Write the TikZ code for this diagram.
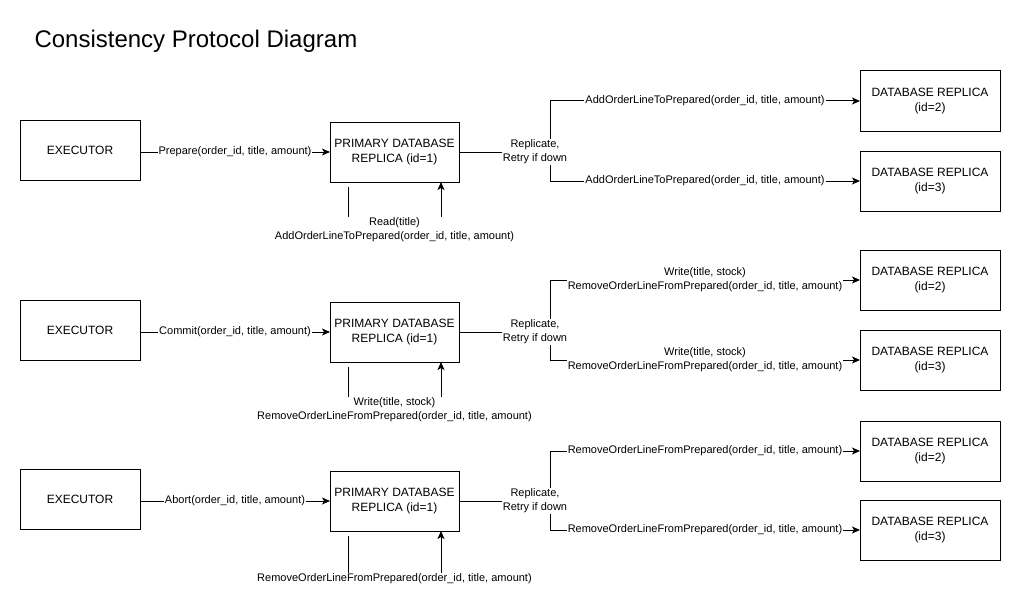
\documentclass[tikz,border=0pt]{standalone}
\usepackage{fontspec}
\setmainfont{Liberation Sans}
\usetikzlibrary{positioning, arrows.meta, calc}

\begin{document}
\begin{tikzpicture}[
  x=1pt, y=1pt,
  box/.style={rectangle, draw, line width=1pt, minimum width=120pt,
    minimum height=60pt, align=center, inner sep=2pt, outer sep=0pt,
    font=\fontsize{12}{15}\selectfont},
  primary/.style={box, minimum width=129pt},
  replica/.style={box, minimum width=140pt},
  arrow/.style={-{Stealth[length=8pt, width=7pt, inset=2pt]}, line width=1pt},
  elabel/.style={fill=white, align=center, inner sep=1pt,
    font=\fontsize{11}{14}\selectfont}
]
  \useasboundingbox (0,0) rectangle (1021,-610);

  % Title
  \node[anchor=west, font=\fontsize{24}{28}\selectfont] (title) at (31,-41) {Consistency Protocol Diagram};

  % Nodes: prepare
  \node[box] (exec1) at (80,-150) {EXECUTOR};
  \node[primary, right=190pt of exec1, yshift=-2pt] (prim1) {PRIMARY DATABASE\\REPLICA (id=1)};
  \node[replica, right=401pt of prim1, yshift=51pt] (repA1) {DATABASE REPLICA\\(id=2)};
  \node[replica, right=401pt of prim1, yshift=-29pt] (repB1) {DATABASE REPLICA\\(id=3)};
  \coordinate[right=91pt of prim1] (fork1);
  \coordinate (rd1) at ([xshift=-46.5pt, yshift=-5pt]prim1.south);

  % Nodes: commit
  \node[box] (exec2) at (80,-330) {EXECUTOR};
  \node[primary, right=190pt of exec2, yshift=-2pt] (prim2) {PRIMARY DATABASE\\REPLICA (id=1)};
  \node[replica, right=401pt of prim2, yshift=52pt] (repA2) {DATABASE REPLICA\\(id=2)};
  \node[replica, right=401pt of prim2, yshift=-28pt] (repB2) {DATABASE REPLICA\\(id=3)};
  \coordinate[right=91pt of prim2] (fork2);
  \coordinate (rd2) at ([xshift=-46.5pt, yshift=-5pt]prim2.south);

  % Nodes: abort
  \node[box] (exec3) at (80,-499.5) {EXECUTOR};
  \node[primary, right=190pt of exec3, yshift=-1.5pt] (prim3) {PRIMARY DATABASE\\REPLICA (id=1)};
  \node[replica, right=401pt of prim3, yshift=50pt] (repA3) {DATABASE REPLICA\\(id=2)};
  \node[replica, right=401pt of prim3, yshift=-29pt] (repB3) {DATABASE REPLICA\\(id=3)};
  \coordinate[right=91pt of prim3] (fork3);
  \coordinate (rd3) at ([xshift=-46.5pt, yshift=-5pt]prim3.south);

  % Arrows: prepare
  \draw[arrow] (exec1.east |- prim1) -- node[elabel] {Prepare(order\_id, title, amount)} (prim1);
  \draw[arrow] (prim1) -- (fork1) |- node[pos=0.75, elabel] {AddOrderLineToPrepared(order\_id, title, amount)} (repA1);
  \draw[arrow] (fork1) |- node[pos=0.75, elabel] {AddOrderLineToPrepared(order\_id, title, amount)} (repB1);
  \node[elabel] (rep1) at ([xshift=-15pt]fork1) {Replicate,\\Retry if down};
  \draw[arrow] (rd1) -- ++(0,-43) -| node[pos=0.25, elabel] {Read(title)\\AddOrderLineToPrepared(order\_id, title, amount)} ([xshift=46.5pt]prim1.south);

  % Arrows: commit
  \draw[arrow] (exec2.east |- prim2) -- node[elabel] {Commit(order\_id, title, amount)} (prim2);
  \draw[arrow] (prim2) -- (fork2) |- node[pos=0.75, elabel] {Write(title, stock)\\RemoveOrderLineFromPrepared(order\_id, title, amount)} (repA2);
  \draw[arrow] (fork2) |- node[pos=0.75, elabel] {Write(title, stock)\\RemoveOrderLineFromPrepared(order\_id, title, amount)} (repB2);
  \node[elabel] (rep2) at ([xshift=-15pt]fork2) {Replicate,\\Retry if down};
  \draw[arrow] (rd2) -- ++(0,-43) -| node[pos=0.25, elabel] {Write(title, stock)\\RemoveOrderLineFromPrepared(order\_id, title, amount)} ([xshift=46.5pt]prim2.south);

  % Arrows: abort
  \draw[arrow] (exec3.east |- prim3) -- node[elabel] {Abort(order\_id, title, amount)} (prim3);
  \draw[arrow] (prim3) -- (fork3) |- node[pos=0.75, elabel] {RemoveOrderLineFromPrepared(order\_id, title, amount)} (repA3);
  \draw[arrow] (fork3) |- node[pos=0.75, elabel] {RemoveOrderLineFromPrepared(order\_id, title, amount)} (repB3);
  \node[elabel] (rep3) at ([xshift=-15pt]fork3) {Replicate,\\Retry if down};
  \draw[arrow] (rd3) -- ++(0,-43) -| node[pos=0.25, elabel] {RemoveOrderLineFromPrepared(order\_id, title, amount)} ([xshift=46.5pt]prim3.south);
\end{tikzpicture}
\end{document}
